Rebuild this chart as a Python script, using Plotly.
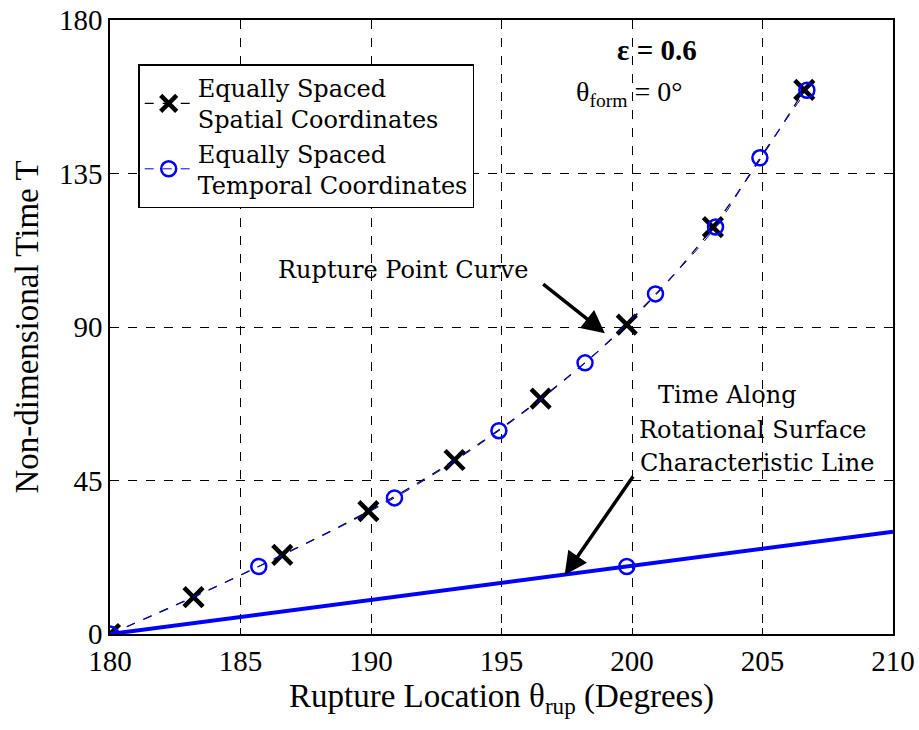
import plotly.graph_objects as go

# Data
spatial_x = [180.0, 183.2, 186.6, 189.9, 193.2, 196.5, 199.8, 203.1, 206.6]
spatial_y = [0.0, 10.8, 23.2, 36.0, 51.0, 69.0, 90.7, 119.3, 159.5]

temporal_x = [180.0, 185.7, 190.9, 194.9, 198.2, 200.9, 203.2, 204.9, 206.7]
temporal_y = [0.0, 19.8, 39.9, 59.6, 79.5, 99.7, 119.3, 139.6, 159.4]

char_x = [180.0, 210.0]
char_y = [0.0, 30.0]
char_mark_x = [199.8]
char_mark_y = [19.8]

x_ticks = [180, 185, 190, 195, 200, 205, 210]
y_ticks = [0, 45, 90, 135, 180]

SERIF = "Liberation Serif, Times New Roman, serif"
SLAB = "DejaVu Serif, serif"

fig = go.Figure()

fig.add_trace(go.Scatter(
    x=spatial_x, y=spatial_y, mode="lines+markers",
    name="Equally Spaced<br>Spatial Coordinates",
    line=dict(color="black", width=1.2, dash="dash", shape="spline"),
    marker=dict(symbol="x-thin", size=19, color="black",
                line=dict(color="black", width=4.5)),
))
fig.add_trace(go.Scatter(
    x=temporal_x, y=temporal_y, mode="lines+markers",
    name="Equally Spaced<br>Temporal Coordinates",
    line=dict(color="blue", width=1, dash="dash", shape="spline"),
    marker=dict(symbol="circle-open", size=15, color="blue",
                line=dict(color="blue", width=2.5)),
))
fig.add_trace(go.Scatter(
    x=char_x, y=char_y, mode="lines", showlegend=False,
    line=dict(color="blue", width=4),
))
fig.add_trace(go.Scatter(
    x=char_mark_x, y=char_mark_y, mode="markers", showlegend=False,
    marker=dict(symbol="circle-open", size=15, color="blue",
                line=dict(color="blue", width=2.5)),
))

annotations = [
    dict(x=198.96, y=88.2, ax=196.54, ay=102.9, axref="x", ayref="y",
         xref="x", yref="y", showarrow=True, arrowhead=2, arrowsize=1.3,
         arrowwidth=3.5, arrowcolor="black", text=""),
    dict(x=197.42, y=17.3, ax=200.08, ay=46.6, axref="x", ayref="y",
         xref="x", yref="y", showarrow=True, arrowhead=2, arrowsize=1.3,
         arrowwidth=3.5, arrowcolor="black", text=""),
    dict(x=191.23, y=106.7, xref="x", yref="y", showarrow=False,
         text="Rupture Point Curve", font=dict(family=SLAB, size=24, color="black")),
    dict(x=203.65, y=70.1, xref="x", yref="y", showarrow=False,
         text="Time Along", font=dict(family=SLAB, size=24, color="black")),
    dict(x=204.65, y=59.8, xref="x", yref="y", showarrow=False,
         text="Rotational Surface", font=dict(family=SLAB, size=24, color="black")),
    dict(x=204.8, y=50.1, xref="x", yref="y", showarrow=False,
         text="Characteristic Line", font=dict(family=SLAB, size=24, color="black")),
    dict(x=200.96, y=171.2, xref="x", yref="y", showarrow=False,
         text="<b>ε = 0.6</b>", font=dict(family=SERIF, size=29, color="black")),
    dict(x=199.9, y=158.5, xref="x", yref="y", showarrow=False,
         text="θ<sub>form</sub> = 0°", font=dict(family=SERIF, size=28, color="black")),
]

axis_common = dict(
    showline=True, linecolor="black", linewidth=1.5, mirror="ticks",
    ticks="inside", ticklen=6, tickcolor="black",
    showgrid=True, gridcolor="black", gridwidth=1, griddash="dash",
    zeroline=False, automargin=False,
    tickfont=dict(family=SERIF, size=29, color="black"),
)

fig.update_layout(
    width=919, height=730,
    margin=dict(l=110, r=26, t=20, b=96),
    paper_bgcolor="white", plot_bgcolor="white",
    xaxis=dict(range=[180, 210], tickvals=x_ticks,
               ticktext=[str(v) for v in x_ticks],
               title=dict(text="Rupture Location θ<sub>rup</sub> (Degrees)",
                          font=dict(family=SERIF, size=33, color="black"),
                          standoff=8),
               **axis_common),
    yaxis=dict(range=[0, 180], tickvals=y_ticks,
               ticktext=[str(v) for v in y_ticks],
               title=dict(text="Non-dimensional Time T",
                          font=dict(family=SERIF, size=33, color="black"),
                          standoff=10),
               **axis_common),
    legend=dict(x=0.036, y=0.928, xanchor="left", yanchor="top",
                bgcolor="white", bordercolor="black", borderwidth=1.5,
                font=dict(family=SLAB, size=24, color="black"),
                tracegroupgap=2, itemwidth=48),
    annotations=annotations,
    showlegend=True,
)

fig.write_html("out.html")
